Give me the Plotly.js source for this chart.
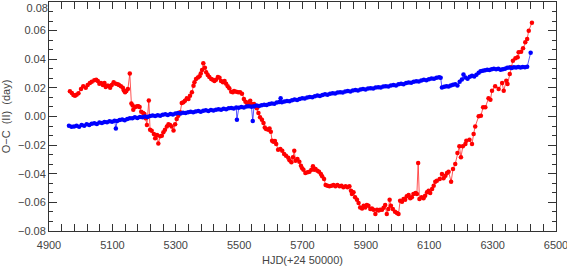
<!DOCTYPE html>
<html>
<head>
<meta charset="utf-8">
<script src="https://cdn.plot.ly/plotly-3.0.1.min.js"></script>
<style>html,body{margin:0;padding:0;background:#fff;}#chart{width:567px;height:266px;}</style>
</head>
<body>
<div id="chart"></div>
<script>
// Series "red" (O-C II) : HJD - 2450000 and O-C in days
const redX = [4966,4972,4977,4982,4987,4993,5001,5008,5016,5022,5029,5035,5043,5049,5054,5059,5064,5070,5075,5079,5083,5087,5093,5098,5104,5111,5117,5121,5127,5133,5136,5140,5144,5149,5155,5160,5164,5166,5172,5178,5182,5186,5191,5197,5201,5205,5209,5215,5219,5224,5231,5235,5241,5245,5251,5256,5261,5266,5272,5277,5282,5287,5293,5298,5303,5308,5314,5319,5324,5329,5335,5340,5345,5351,5356,5359,5364,5370,5375,5379,5383,5387,5392,5396,5401,5406,5412,5417,5422,5427,5433,5438,5443,5449,5454,5459,5464,5469,5475,5480,5484,5491,5497,5503,5509,5515,5520,5525,5531,5535,5539,5543,5547,5551,5556,5561,5566,5572,5577,5581,5585,5592,5596,5600,5604,5608,5613,5617,5623,5630,5636,5642,5648,5655,5659,5665,5670,5674,5678,5684,5690,5695,5699,5703,5709,5716,5722,5728,5733,5737,5741,5747,5752,5758,5762,5768,5773,5779,5785,5792,5798,5804,5810,5817,5823,5829,5836,5842,5848,5853,5856,5861,5866,5872,5877,5882,5888,5893,5898,5903,5908,5914,5919,5924,5930,5935,5940,5945,5951,5956,5961,5966,5971,5975,5979,5985,5992,5998,6003,6008,6014,6019,6024,6029,6035,6040,6045,6050,6057,6061,6065,6069,6076,6082,6087,6093,6098,6103,6109,6114,6119,6124,6133,6140,6145,6151,6156,6161,6169,6175,6182,6189,6195,6200,6206,6214,6217,6227,6235,6240,6245,6256,6263,6270,6277,6287,6293,6298,6308,6319,6330,6335,6343,6347,6354,6358,6364,6372,6379,6382,6390,6396,6403,6409,6414,6424];
const redY = [0.0176,0.0164,0.0150,0.0145,0.0152,0.0162,0.0192,0.0211,0.0201,0.0220,0.0234,0.0243,0.0253,0.0257,0.0248,0.0229,0.0234,0.0220,0.0234,0.0206,0.0215,0.0215,0.0201,0.0220,0.0239,0.0229,0.0225,0.0220,0.0211,0.0201,0.0183,0.0169,0.0178,0.0192,0.0300,0.0090,0.0076,0.0048,0.0066,0.0071,0.0071,0.0066,0.0034,0.0024,0.0017,-0.0013,-0.0059,0.0112,-0.0092,-0.0099,-0.0122,-0.0152,-0.0129,-0.0188,-0.0138,-0.0134,-0.0110,-0.0092,-0.0069,-0.0055,-0.0059,-0.0069,-0.0097,-0.0055,-0.0017,0.0006,0.0029,0.0094,0.0099,0.0110,0.0127,0.0122,0.0145,0.0169,0.0215,0.0239,0.0262,0.0272,0.0282,0.0300,0.0325,0.0372,0.0340,0.0309,0.0290,0.0276,0.0262,0.0257,0.0248,0.0257,0.0276,0.0271,0.0248,0.0239,0.0248,0.0229,0.0211,0.0197,0.0173,0.0169,0.0178,0.0173,0.0169,0.0169,0.0159,0.0122,0.0103,0.0094,0.0099,0.0110,0.0087,0.0080,0.0087,0.0071,0.0057,0.0024,-0.0006,-0.0022,-0.0045,-0.0076,-0.0087,-0.0092,-0.0083,-0.0106,-0.0169,-0.0176,-0.0171,-0.0192,-0.0232,-0.0227,-0.0239,-0.0262,-0.0274,-0.0288,-0.0306,-0.0320,-0.0285,-0.0239,-0.0309,-0.0297,-0.0316,-0.0344,-0.0362,-0.0372,-0.0395,-0.0390,-0.0386,-0.0372,-0.0348,-0.0372,-0.0367,-0.0379,-0.0386,-0.0402,-0.0418,-0.0437,-0.0479,-0.0484,-0.0488,-0.0484,-0.0479,-0.0488,-0.0479,-0.0488,-0.0484,-0.0495,-0.0488,-0.0495,-0.0488,-0.0519,-0.0542,-0.0530,-0.0565,-0.0582,-0.0605,-0.0635,-0.0642,-0.0624,-0.0635,-0.0619,-0.0624,-0.0647,-0.0642,-0.0652,-0.0682,-0.0652,-0.0656,-0.0652,-0.0652,-0.0638,-0.0619,-0.0682,-0.0647,-0.0582,-0.0624,-0.0647,-0.0666,-0.0675,-0.0682,-0.0589,-0.0596,-0.0577,-0.0582,-0.0558,-0.0549,-0.0572,-0.0565,-0.0542,-0.0535,-0.0542,-0.0325,-0.0577,-0.0565,-0.0572,-0.0554,-0.0530,-0.0519,-0.0535,-0.0507,-0.0484,-0.0456,-0.0449,-0.0437,-0.0402,-0.0432,-0.0414,-0.0395,-0.0386,-0.0456,-0.0367,-0.0332,-0.0255,-0.0208,-0.0285,-0.0208,-0.0192,-0.0169,-0.0162,-0.0192,-0.0122,-0.0069,0.0001,0.0006,0.0064,0.0064,0.0127,0.0117,0.0180,0.0211,0.0192,0.0234,0.0180,0.0250,0.0227,0.0297,0.0344,0.0390,0.0407,0.0414,0.0449,0.0453,0.0477,0.0519,0.0542,0.0600,0.0655];

// Series "blue"
const blueX = [4963,4971,4979,4987,4995,5003,5011,5019,5027,5035,5043,5051,5059,5067,5075,5083,5091,5099,5107,5111,5115,5123,5131,5139,5147,5155,5163,5171,5179,5187,5195,5203,5211,5219,5227,5235,5243,5251,5259,5267,5275,5283,5291,5299,5307,5315,5323,5331,5339,5347,5355,5363,5371,5379,5387,5395,5403,5411,5419,5427,5435,5443,5451,5459,5467,5475,5483,5491,5493,5499,5507,5515,5523,5531,5539,5543,5547,5555,5563,5571,5579,5587,5595,5603,5611,5619,5627,5631,5635,5643,5651,5659,5667,5675,5683,5691,5699,5707,5715,5723,5731,5739,5747,5755,5763,5771,5779,5787,5795,5803,5811,5819,5827,5835,5843,5851,5859,5867,5875,5883,5891,5899,5907,5915,5923,5931,5939,5947,5955,5963,5971,5979,5987,5995,6003,6011,6019,6027,6035,6043,6051,6059,6067,6075,6083,6091,6099,6107,6115,6123,6131,6136,6140,6147,6154,6161,6168,6175,6182,6189,6196,6203,6208,6214,6221,6228,6235,6242,6249,6256,6262,6269,6276,6283,6290,6297,6304,6311,6318,6325,6332,6339,6346,6353,6360,6367,6374,6381,6388,6395,6402,6409,6420];
const blueY = [-0.0064,-0.0072,-0.0070,-0.0065,-0.0071,-0.0060,-0.0064,-0.0055,-0.0059,-0.0050,-0.0047,-0.0053,-0.0042,-0.0046,-0.0038,-0.0041,-0.0033,-0.0036,-0.0029,-0.0083,-0.0031,-0.0025,-0.0021,-0.0026,-0.0017,-0.0013,-0.0012,-0.0006,-0.0010,-0.0003,-0.0006,0.0000,-0.0003,0.0003,0.0007,0.0003,0.0009,0.0006,0.0012,0.0015,0.0011,0.0018,0.0014,0.0021,0.0024,0.0021,0.0027,0.0024,0.0030,0.0033,0.0029,0.0035,0.0038,0.0034,0.0040,0.0043,0.0039,0.0045,0.0042,0.0048,0.0051,0.0047,0.0054,0.0051,0.0057,0.0060,0.0056,0.0063,-0.0022,0.0061,0.0066,0.0063,0.0069,0.0072,0.0068,-0.0031,0.0072,0.0076,0.0073,0.0079,0.0082,0.0080,0.0087,0.0091,0.0089,0.0097,0.0101,0.0127,0.0100,0.0104,0.0108,0.0106,0.0113,0.0118,0.0116,0.0123,0.0127,0.0125,0.0132,0.0137,0.0134,0.0142,0.0146,0.0144,0.0151,0.0155,0.0152,0.0159,0.0163,0.0160,0.0167,0.0170,0.0167,0.0174,0.0178,0.0175,0.0182,0.0185,0.0182,0.0189,0.0192,0.0189,0.0195,0.0198,0.0195,0.0202,0.0205,0.0202,0.0209,0.0212,0.0209,0.0216,0.0220,0.0217,0.0225,0.0229,0.0226,0.0234,0.0238,0.0235,0.0243,0.0247,0.0244,0.0252,0.0256,0.0253,0.0261,0.0266,0.0263,0.0270,0.0274,0.0271,0.0203,0.0207,0.0212,0.0209,0.0217,0.0222,0.0226,0.0216,0.0243,0.0258,0.0293,0.0272,0.0264,0.0278,0.0284,0.0280,0.0292,0.0305,0.0316,0.0320,0.0323,0.0327,0.0325,0.0331,0.0333,0.0330,0.0333,0.0327,0.0330,0.0334,0.0340,0.0343,0.0339,0.0344,0.0342,0.0345,0.0343,0.0346,0.0344,0.0347,0.0445];

const xTicks = [4900,5100,5300,5500,5700,5900,6100,6300,6500];
const yTicks = [-0.08,-0.06,-0.04,-0.02,0.00,0.02,0.04,0.06];
const yTopTick = [0.08];

const font = {family: 'Liberation Sans, Arial, sans-serif', size: 11, color: '#444'};
const fmt = v => (v < 0 ? '\u2212' : '') + Math.abs(v).toFixed(2);

const traces = [
  {x: redX, y: redY, type: 'scatter', mode: 'lines+markers',
   line: {color: '#ff2a2a', width: 0.8}, marker: {color: '#ff0000', size: 4.5}},
  {x: blueX, y: blueY, type: 'scatter', mode: 'lines+markers',
   line: {color: '#2a2aff', width: 0.8}, marker: {color: '#0000ff', size: 4.5}}
];

const axisCommon = {
  showgrid: false, zeroline: false, showline: true, linecolor: '#333', linewidth: 1,
  mirror: 'allticks', ticks: 'inside', tickcolor: '#333', tickwidth: 1,
  tickfont: font, ticklabeloverflow: 'allow'
};

const layout = {
  width: 567, height: 266,
  margin: {l: 49, r: 11, t: 2, b: 35},
  paper_bgcolor: '#fff', plot_bgcolor: '#fff',
  showlegend: false,
  font: font,
  xaxis: Object.assign({}, axisCommon, {
    range: [4900, 6500], tickmode: 'array', tickvals: xTicks, ticktext: xTicks.map(String),
    ticklen: 7, ticklabelstandoff: 4,
    minor: {dtick: 40, tick0: 4900, ticks: 'inside', ticklen: 4, tickcolor: '#333', showgrid: false},
    title: {text: 'HJD(+24 50000)', font: font, standoff: 6}
  }),
  yaxis: Object.assign({}, axisCommon, {
    range: [-0.08, 0.08], tickmode: 'array', tickvals: yTicks.concat(yTopTick),
    ticktext: yTicks.map(fmt).concat(['']),
    ticklen: 8,
    minor: {dtick: 0.02/3, tick0: 0, ticks: 'inside', ticklen: 4, tickcolor: '#333', showgrid: false},
    title: {text: 'O\u2212C  (II)  (day)', font: font, standoff: 6}
  }),
  yaxis2: {
    overlaying: 'y', side: 'left', range: [-0.08, 0.08], showgrid: false, zeroline: false,
    showline: false, ticks: '', tickmode: 'array', tickvals: yTopTick, ticktext: yTopTick.map(fmt),
    tickfont: font, ticklabelshift: 6, ticklabeloverflow: 'allow'
  }
};

traces.push({x: [4900], y: [0], yaxis: 'y2', type: 'scatter', mode: 'markers',
  marker: {opacity: 0}, hoverinfo: 'skip', showlegend: false});

Plotly.newPlot('chart', traces, layout, {displayModeBar: false, staticPlot: true});
</script>
</body>
</html>
